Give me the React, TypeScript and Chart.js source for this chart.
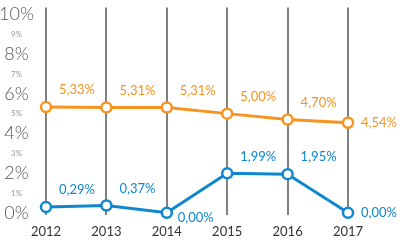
import React, { useEffect, useRef } from "react";
import { Chart, registerables } from "chart.js";

Chart.register(...registerables);

const years = ["2012", "2013", "2014", "2015", "2016", "2017"];
const orangeSeries = [5.33, 5.31, 5.31, 5.0, 4.7, 4.54];
const blueSeries = [0.29, 0.37, 0.0, 1.99, 1.95, 0.0];
const yTickValues = [0, 1, 2, 3, 4, 5, 6, 7, 8, 9, 10];

const ORANGE = "#f7931e";
const BLUE = "#0f87cf";
const FONT = "Lato";

const fmt = (v: number) => v.toFixed(2).replace(".", ",") + "%";

const valueLabels = {
  id: "valueLabels",
  afterDatasetsDraw(chart: any) {
    const ctx = chart.ctx;
    chart.data.datasets.forEach((ds: any, di: number) => {
      const meta = chart.getDatasetMeta(di);
      const n = ds.data.length;
      meta.data.forEach((pt: any, i: number) => {
        const v = ds.data[i] as number;
        ctx.save();
        ctx.font = `13px ${FONT}`;
        ctx.fillStyle = ds.borderColor;
        ctx.textAlign = "left";
        ctx.textBaseline = "middle";
        let x = pt.x + 13;
        let y = pt.y - 17;
        if (i === n - 1) {
          y = pt.y;
        } else if (v === 0) {
          x = pt.x + 11;
          y = pt.y + 5;
        }
        ctx.fillText(fmt(v), x, y);
        ctx.restore();
      });
    });
  },
};

export default function App() {
  const ref = useRef<HTMLCanvasElement | null>(null);
  useEffect(() => {
    if (!ref.current) return;
    const chart = new Chart(ref.current, {
      type: "line",
      data: {
        labels: years,
        datasets: [
          {
            data: orangeSeries,
            borderColor: ORANGE,
            backgroundColor: "#ffffff",
            borderWidth: 3,
            pointRadius: 5,
            pointBorderWidth: 2.5,
            pointBackgroundColor: "#ffffff",
            pointBorderColor: ORANGE,
            clip: false as any,
            tension: 0,
          },
          {
            data: blueSeries,
            borderColor: BLUE,
            backgroundColor: "#ffffff",
            borderWidth: 3,
            pointRadius: 5,
            pointBorderWidth: 2.5,
            pointBackgroundColor: "#ffffff",
            pointBorderColor: BLUE,
            clip: false as any,
            tension: 0,
          },
        ],
      },
      options: {
        responsive: false,
        animation: false,
        layout: { padding: { left: 0, right: 62, top: 0, bottom: 0 } },
        plugins: { legend: { display: false }, tooltip: { enabled: false } },
        scales: {
          x: {
            type: "category",
            offset: false,
            grid: { color: "#808080", lineWidth: 2, drawTicks: false },
            border: { display: false },
            ticks: { font: { family: FONT, size: 13 }, color: "#333333", padding: 9, maxRotation: 0, autoSkip: false },
            afterFit: (s: any) => {
              s.height = 25;
              s.paddingLeft = 0;
              s.paddingRight = 0;
            },
          },
          y: {
            min: -0.11,
            max: 10.35,
            grid: { display: false },
            border: { display: false },
            afterBuildTicks: (s: any) => {
              s.ticks = yTickValues.map((v) => ({ value: v }));
            },
            ticks: {
              autoSkip: false,
              crossAlign: "center",
              padding: 4,
              callback: (v: any) => `${v}%`,
              font: (c: any) => {
                const major = c.tick && c.tick.value % 2 === 0;
                return { family: FONT, size: major ? 18 : 8, weight: major ? "300" : "400" };
              },
              color: (c: any) => (c.tick && c.tick.value % 2 === 0 ? "#555555" : "#999999"),
            },
            afterFit: (s: any) => {
              s.width = 46;
              s.paddingTop = 0;
              s.paddingBottom = 0;
            },
          },
        },
      },
      plugins: [valueLabels],
    });
    return () => chart.destroy();
  }, []);
  return (
    <div style={{ position: "absolute", left: 0, top: 0, width: 410, height: 240 }}>
      <canvas ref={ref} width={410} height={240} />
    </div>
  );
}
